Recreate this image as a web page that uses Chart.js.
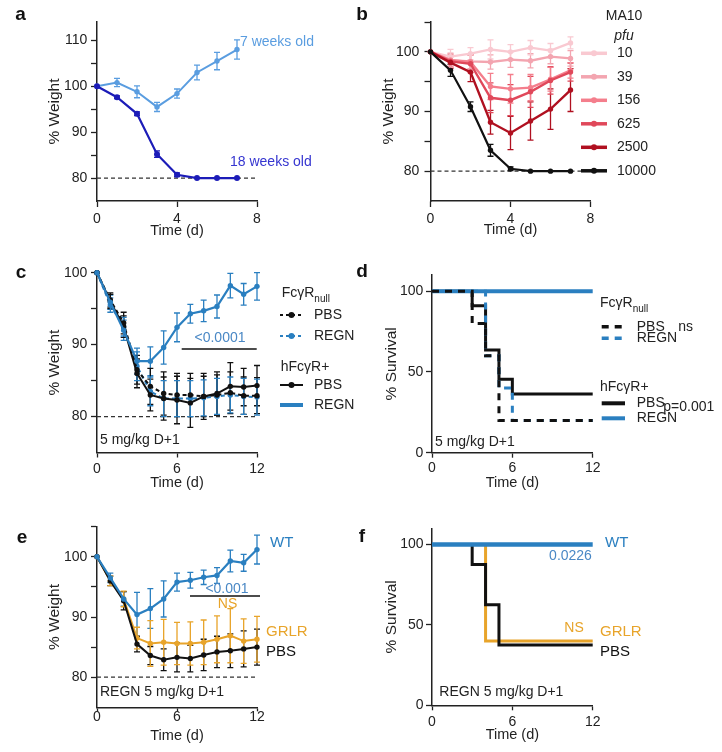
<!DOCTYPE html>
<html>
<head>
<meta charset="utf-8">
<script src="https://cdn.jsdelivr.net/npm/chart.js@4.4.1/dist/chart.umd.min.js"></script>
<style>
  body { margin: 0; background: #fff; }
  #wrap { position: relative; width: 722px; height: 752px; overflow: hidden; }
  canvas { position: absolute; }
</style>
</head>
<body>
<div id="wrap">
  <canvas id="pa"></canvas><canvas id="pb"></canvas>
  <canvas id="pc"></canvas><canvas id="pd"></canvas>
  <canvas id="pe"></canvas><canvas id="pf"></canvas>
</div>
<script>
// ---------- data ----------
// a: young vs old mice
const daysA = [0, 1, 2, 3, 4, 5, 6, 7];
const weeks7 = [100, 100.8, 98.8, 95.5, 98.4, 103, 105.5, 108];
const weeks7Err = [0, 0.9, 1.3, 1, 1, 1.6, 1.9, 2.1];
const weeks18 = [100, 97.6, 94, 85.2, 80.7, 80, 80, 80];
const weeks18Err = [0, 0.3, 0.4, 0.7, 0.4, 0, 0, 0];

// b: MA10 dose (pfu)
const pfuLabels = ['10', '39', '156', '625', '2500', '10000'];
const pfu10 = [100, 99.2, 99.7, 100.4, 100, 100.7, 100.2, 101.5];
const pfu39 = [100, 98.6, 98.4, 98.3, 98.7, 98.5, 99.2, 98.9];
const pfu156 = [100, 98.6, 98.3, 94.2, 93.8, 94, 95.4, 96.9];
const pfu625 = [100, 98.4, 98, 92.3, 91.9, 93.3, 95.2, 96.6];
const pfu2500 = [100, 98.2, 96.6, 88.2, 86.4, 88.4, 90.4, 93.6];
const pfu10000 = [100, 96.9, 90.8, 83.5, 80.4, 80, 80, 80];
const pfu10Err = [0, 1.2, 1, 1.6, 1.2, 1.2, 1.2, 1];
const pfu39Err = [0, 1.2, 1.2, 1.2, 1.3, 1.2, 1.2, 1.3];
const pfu156Err = [0, 1, 1.2, 2.2, 2.4, 2.2, 2, 1.3];
const pfu625Err = [0, 1, 1.5, 2.5, 2.6, 2.6, 2.3, 1.5];
const pfu2500Err = [0, 1, 1.6, 2, 2.8, 3.2, 3.4, 3.6];
const pfu10000Err = [0, 1, 0.8, 1, 0.3, 0, 0, 0];

// c: FcgR null vs hFcgR+, weight
const daysC = [0, 1, 2, 3, 4, 5, 6, 7, 8, 9, 10, 11, 12];
const hPbs = [100, 96, 92.5, 86, 83, 82.5, 82.3, 81.9, 82.8, 83.2, 84.2, 84.1, 84.3];
const hPbsErr = [0, 1, 1.5, 2, 2.2, 3, 3.3, 3.4, 3.2, 3, 3.3, 2.6, 2.8];
const hRegn = [100, 95.9, 92, 87.7, 87.7, 89.6, 92.4, 94.3, 94.7, 95.3, 98.2, 97, 98.1];
const hRegnErr = [0, 1, 1.4, 1.8, 2, 2.3, 2, 1.3, 1.5, 1.6, 1.7, 1.5, 1.9];
const nullPbs = [100, 96.2, 93, 86.5, 84.2, 83.2, 83, 83, 82.8, 83, 83.3, 82.9, 82.9];
const nullPbsErr = [0, 1, 1.5, 2, 2.5, 3, 3, 3, 2.8, 2.8, 2.9, 2.6, 2.5];
const nullRegn = [100, 95.5, 92.5, 87, 83.5, 82.5, 82.5, 82.5, 82.6, 82.8, 83, 82.8, 82.7];
const nullRegnErr = [0, 1, 1.3, 2, 2, 2.5, 2.5, 2.5, 2.5, 2.5, 2.5, 2.5, 2.5];

// d: survival
const kmHPbsDays = [0, 3, 4, 5, 6, 12];
const kmHPbs = [100, 90.9, 63.6, 45.5, 36.4, 36.4];
const kmHRegnDays = [0, 12];
const kmHRegn = [100, 100];
const kmNullPbsDays = [0, 3, 4, 5, 12];
const kmNullPbs = [100, 80, 60, 20, 20];
const kmNullRegnDays = [0, 4, 5, 6, 12];
const kmNullRegn = [100, 60, 40, 20, 20];

// e: WT vs GRLR vs PBS weight
const daysE = [0, 1, 2, 3, 4, 5, 6, 7, 8, 9, 10, 11, 12];
const wtW = [100, 96.5, 93, 90.4, 91.4, 93, 95.8, 96.1, 96.6, 96.9, 99.3, 99, 101.2];
const wtErr = [0, 0.8, 1.2, 3.7, 3.3, 3, 1.5, 1.3, 1.2, 1.3, 1.8, 1.4, 2.4];
const grlrW = [100, 96, 93, 86.5, 85.6, 85.8, 85.6, 85.6, 85.8, 86.3, 86.9, 86, 86.3];
const grlrErr = [0, 0.8, 1.3, 1.8, 3.8, 3.8, 3.5, 3.6, 3.7, 3.9, 4.5, 3.7, 3.8];
const pbsW = [100, 96, 92.7, 85.5, 83.6, 82.9, 83.3, 83.1, 83.7, 84.2, 84.4, 84.7, 85];
const pbsErr = [0, 0.8, 1.5, 1.3, 1.5, 1.8, 2.4, 2.2, 2.6, 2.6, 2.8, 3, 3];

// f: survival
const kmWtDays = [0, 12];
const kmWt = [100, 100];
const kmGrlrDays = [0, 4, 12];
const kmGrlr = [100, 40, 40];
const kmPbsDays = [0, 3, 4, 5, 12];
const kmPbs = [100, 87.5, 62.5, 37.5, 37.5];

// ticks
const weightTicksA = [80, 85, 90, 95, 100, 105, 110];
const weightTicksB = [80, 85, 90, 95, 100, 105];
const weightTicksC = [80, 85, 90, 95, 100];
const survivalTicks = [0, 50, 100];
const dayTicksShort = [0, 4, 8];
const dayTicksLong = [0, 6, 12];

// ---------- style ----------
const FONT = "'Liberation Sans', Arial, Helvetica, sans-serif";
Chart.defaults.font.family = FONT;
Chart.defaults.font.size = 14;
Chart.defaults.color = '#222';

const lightBlue = '#5a9de0', darkBlue = '#1c1cb8';
const pink = ['#f9c9d1', '#f3a5b0', '#f47e8c', '#e0485a', '#b01020', '#111111'];
const blue = '#2a7fc0', orange = '#e8a42a', pBlue = '#4a88c5';

function pts(xs, ys) { return xs.map((x, i) => ({x, y: ys[i]})); }

function wLine(xs, ys, err, color, extra) {
  return Object.assign({data: pts(xs, ys), err, borderColor: color, backgroundColor: color,
    borderWidth: 2, pointRadius: 2.7, pointBorderWidth: 0, tension: 0, clip: false}, extra || {});
}
function kmLine(xs, ys, color, width, dash) {
  return {data: pts(xs, ys), borderColor: color, backgroundColor: color, borderWidth: width,
    borderDash: dash || [], pointRadius: 0, stepped: 'before', clip: false};
}

const decoById = {};
const decoPlugin = {
  id: 'deco',
  beforeDatasetsDraw(chart) {
    const d = decoById[chart.canvas.id];
    if (!d) return;
    const {ctx, chartArea: ar, scales: {x, y}} = chart;
    ctx.save();
    if (d.ref != null) {
      const py = y.getPixelForValue(d.ref);
      ctx.strokeStyle = '#333'; ctx.lineWidth = 1.2; ctx.setLineDash([4, 3]);
      ctx.beginPath(); ctx.moveTo(ar.left, py); ctx.lineTo(ar.right, py); ctx.stroke();
    }
    ctx.setLineDash([]);
    chart.data.datasets.forEach(ds => {
      if (!ds.err) return;
      ctx.strokeStyle = ds.borderColor; ctx.lineWidth = 1.3;
      ds.data.forEach((p, j) => {
        const e = ds.err[j];
        if (!e) return;
        const px = x.getPixelForValue(p.x);
        const hi = y.getPixelForValue(p.y + e), lo = y.getPixelForValue(p.y - e);
        ctx.beginPath();
        ctx.moveTo(px, hi); ctx.lineTo(px, lo);
        ctx.moveTo(px - 3, hi); ctx.lineTo(px + 3, hi);
        ctx.moveTo(px - 3, lo); ctx.lineTo(px + 3, lo);
        ctx.stroke();
      });
    });
    ctx.restore();
  },
  afterDraw(chart) {
    const d = decoById[chart.canvas.id];
    if (!d) return;
    const ctx = chart.ctx, ox = d.box.x, oy = d.box.y;
    ctx.save();
    ctx.textBaseline = 'middle';
    ctx.fillStyle = '#111'; ctx.textAlign = 'center';
    ctx.font = 'bold 19px ' + FONT;
    ctx.fillText(d.letter, d.lx - ox, d.ly - oy);

    (d.segs || []).forEach(s => {
      ctx.strokeStyle = '#111'; ctx.lineWidth = 1.3; ctx.setLineDash([]);
      ctx.beginPath(); ctx.moveTo(s.x1 - ox, s.y - oy); ctx.lineTo(s.x2 - ox, s.y - oy); ctx.stroke();
    });
    (d.keys || []).forEach(k => {
      ctx.strokeStyle = k.c; ctx.fillStyle = k.c; ctx.lineWidth = k.w;
      ctx.setLineDash(k.dash || []);
      ctx.beginPath(); ctx.moveTo(k.x1 - ox, k.y - oy); ctx.lineTo(k.x2 - ox, k.y - oy); ctx.stroke();
      ctx.setLineDash([]);
      if (k.dot) {
        ctx.beginPath(); ctx.arc((k.x1 + k.x2) / 2 - ox, k.y - oy, 3, 0, Math.PI * 2); ctx.fill();
      }
    });
    (d.texts || []).forEach(t => {
      const size = t.size || 14;
      ctx.font = (t.italic ? 'italic ' : '') + size + 'px ' + FONT;
      ctx.fillStyle = t.c || '#222';
      ctx.textAlign = t.align || 'left';
      ctx.fillText(t.t, t.x - ox, t.y - oy);
      if (t.sub) {
        const w = ctx.measureText(t.t).width;
        ctx.font = '10px ' + FONT;
        ctx.textAlign = 'left';
        ctx.fillText(t.sub, t.x - ox + w, t.y - oy + 6);
      }
    });
    ctx.restore();
  }
};

function makePanel(id, box, area, ax, datasets, deco) {
  const cv = document.getElementById(id);
  cv.width = box.w; cv.height = box.h;
  cv.style.left = box.x + 'px'; cv.style.top = box.y + 'px';
  decoById[id] = Object.assign({box}, deco);
  const tickGrid = len => ({display: true, drawOnChartArea: false, drawTicks: true,
    tickLength: len, color: '#222', tickWidth: 1.3});
  return new Chart(cv, {
    type: 'line',
    data: {datasets},
    options: {
      responsive: false, animation: false, events: [],
      layout: {padding: {left: 0, top: area.t - box.y, right: box.x + box.w - area.r, bottom: 0}},
      plugins: {legend: {display: false}, tooltip: {enabled: false}},
      scales: {
        x: {
          type: 'linear', min: ax.xMin, max: ax.xMax,
          afterFit: s => { s.height = box.y + box.h - area.b; },
          afterBuildTicks: s => { s.ticks = ax.xTicks.map(v => ({value: v})); },
          grid: tickGrid(ax.xTl),
          border: {color: '#222', width: 1.5},
          ticks: {padding: ax.xPad, maxRotation: 0, autoSkip: false, color: '#222'},
          title: {display: true, text: 'Time (d)', font: {size: 14.5}, color: '#222',
            padding: {top: 0, bottom: ax.xTitlePad}}
        },
        y: {
          type: 'linear', min: ax.yMin, max: ax.yMax,
          afterFit: s => { s.width = area.l - box.x; },
          afterBuildTicks: s => { s.ticks = ax.yTicks.map(v => ({value: v})); },
          grid: tickGrid(6),
          border: {color: '#222', width: 1.5},
          ticks: {padding: ax.yPad, autoSkip: false, color: '#222',
            callback: v => (ax.yEvery || v % 10 === 0) ? String(v) : ''},
          title: {display: true, text: ax.yTitle, font: {size: 15.5}, color: '#222',
            padding: {top: ax.yTitlePad, bottom: 0}}
        }
      }
    },
    plugins: [decoPlugin]
  });
}

// ---------- a ----------
makePanel('pa', {x: 0, y: 0, w: 361, h: 245}, {l: 97, t: 22, r: 257, b: 201},
  {xMin: 0, xMax: 8, xTicks: dayTicksShort, xTl: 6, xPad: 3.6, xTitlePad: 5.3,
   yMin: 75, yMax: 114, yTicks: weightTicksA, yPad: 3.7, yTitle: '% Weight', yTitlePad: 45.7},
  [wLine(daysA, weeks18, weeks18Err, darkBlue, {borderWidth: 2.2, pointRadius: 3}),
   wLine(daysA, weeks7, weeks7Err, lightBlue)],
  {letter: 'a', lx: 20.5, ly: 15, ref: 80,
   texts: [{t: '7 weeks old', x: 240, y: 42, c: lightBlue},
           {t: '18 weeks old', x: 230, y: 162, c: '#3535d0'}]});

// ---------- b ----------
const pfuSeries = [pfu10000, pfu2500, pfu625, pfu156, pfu39, pfu10];
const pfuErrs = [pfu10000Err, pfu2500Err, pfu625Err, pfu156Err, pfu39Err, pfu10Err];
const pfuColors = pink.slice().reverse();
const keysB = [], textsB = [{t: 'MA10', x: 624, y: 16, align: 'center'},
                            {t: 'pfu', x: 624, y: 36, align: 'center', italic: true}];
pfuLabels.forEach((lab, i) => {
  const ky = 53.3 + i * 23.5;
  keysB.push({x1: 581, x2: 607, y: ky, c: pink[i], w: 3.5, dot: true});
  textsB.push({t: lab, x: 617, y: ky});
});
makePanel('pb', {x: 345, y: 0, w: 377, h: 245}, {l: 430.5, t: 22, r: 590.5, b: 201},
  {xMin: 0, xMax: 8, xTicks: dayTicksShort, xTl: 6, xPad: 3.6, xTitlePad: 6.3,
   yMin: 75, yMax: 105, yTicks: weightTicksB, yPad: 5.2, yTitle: '% Weight', yTitlePad: 34.7},
  pfuSeries.map((s, i) => wLine(daysA, s, pfuErrs[i], pfuColors[i], {borderWidth: i === 0 ? 2.2 : 2.4})),
  {letter: 'b', lx: 362, ly: 15, ref: 80, keys: keysB, texts: textsB});

// ---------- c ----------
makePanel('pc', {x: 0, y: 250, w: 361, h: 250}, {l: 97, t: 272.7, r: 257, b: 452.5},
  {xMin: 0, xMax: 12, xTicks: dayTicksLong, xTl: 5, xPad: 3.1, xTitlePad: 8.3,
   yMin: 75, yMax: 100, yTicks: weightTicksC, yPad: 3.7, yTitle: '% Weight', yTitlePad: 45.7},
  [wLine(daysC, hRegn, hRegnErr, blue, {borderWidth: 2.2}),
   wLine(daysC, hPbs, hPbsErr, '#111'),
   wLine(daysC, nullPbs, nullPbsErr, '#111', {borderDash: [4, 3]}),
   wLine(daysC, nullRegn, nullRegnErr, blue, {borderDash: [4, 3]})],
  {letter: 'c', lx: 21, ly: 273, ref: 80,
   segs: [{x1: 181.7, x2: 256.7, y: 349}],
   keys: [{x1: 280, x2: 303, y: 315, c: '#111', w: 2, dash: [3, 3], dot: true},
          {x1: 280, x2: 303, y: 336, c: blue, w: 2, dash: [3, 3], dot: true},
          {x1: 280, x2: 303, y: 385, c: '#111', w: 2, dot: true},
          {x1: 280, x2: 303, y: 405, c: blue, w: 4}],
   texts: [{t: 'FcγR', sub: 'null', x: 281.7, y: 293},
           {t: 'PBS', x: 314, y: 315}, {t: 'REGN', x: 314, y: 336},
           {t: 'hFcγR+', x: 280.7, y: 366.7},
           {t: 'PBS', x: 314, y: 385}, {t: 'REGN', x: 314, y: 405},
           {t: '<0.0001', x: 220, y: 338.3, align: 'center', c: pBlue},
           {t: '5 mg/kg D+1', x: 100, y: 440}]});

// ---------- d ----------
makePanel('pd', {x: 345, y: 250, w: 377, h: 250}, {l: 432, t: 275, r: 592.7, b: 452.7},
  {xMin: 0, xMax: 12, xTicks: dayTicksLong, xTl: 5, xPad: 1.9, xTitlePad: 8.3,
   yMin: 0, yMax: 110, yTicks: survivalTicks, yEvery: true, yPad: 2.7, yTitle: '% Survival', yTitlePad: 37.7},
  [kmLine(kmNullPbsDays, kmNullPbs, '#111', 3, [7, 6]),
   kmLine(kmNullRegnDays, kmNullRegn, blue, 3, [7, 6]),
   kmLine(kmHRegnDays, kmHRegn, blue, 4),
   kmLine(kmHPbsDays, kmHPbs, '#111', 3)],
  {letter: 'd', lx: 362, ly: 272,
   keys: [{x1: 601.7, x2: 625, y: 326.7, c: '#111', w: 3.5, dash: [7, 6]},
          {x1: 601.7, x2: 625, y: 338.3, c: blue, w: 3.5, dash: [7, 6]},
          {x1: 601.7, x2: 625, y: 403.3, c: '#111', w: 4},
          {x1: 601.7, x2: 625, y: 418.3, c: blue, w: 4}],
   texts: [{t: 'FcγR', sub: 'null', x: 600, y: 303.3},
           {t: 'PBS', x: 636.7, y: 326.7}, {t: 'ns', x: 678.3, y: 327},
           {t: 'REGN', x: 636.7, y: 338.3},
           {t: 'hFcγR+', x: 600, y: 386.7},
           {t: 'PBS', x: 636.7, y: 403.3}, {t: 'p=0.001', x: 663.3, y: 406.7},
           {t: 'REGN', x: 636.7, y: 418.3},
           {t: '5 mg/kg D+1', x: 435, y: 441.7}]});

// ---------- e ----------
makePanel('pe', {x: 0, y: 500, w: 361, h: 252}, {l: 97, t: 526.7, r: 257, b: 707.3},
  {xMin: 0, xMax: 12, xTicks: dayTicksLong, xTl: 4, xPad: -2.4, xTitlePad: 7.3,
   yMin: 75, yMax: 105, yTicks: weightTicksB, yPad: 3.7, yTitle: '% Weight', yTitlePad: 45.7},
  [wLine(daysE, wtW, wtErr, blue, {borderWidth: 2.2}),
   wLine(daysE, pbsW, pbsErr, '#111'),
   wLine(daysE, grlrW, grlrErr, orange)],
  {letter: 'e', lx: 22, ly: 537.5, ref: 80,
   segs: [{x1: 190, x2: 260, y: 596}],
   texts: [{t: 'WT', x: 270, y: 543.3, c: blue, size: 15},
           {t: '<0.001', x: 227, y: 589, align: 'center', c: pBlue},
           {t: 'NS', x: 227.5, y: 604.5, align: 'center', c: orange},
           {t: 'GRLR', x: 266, y: 631.7, c: orange, size: 15},
           {t: 'PBS', x: 266, y: 651.7, c: '#111', size: 15},
           {t: 'REGN 5 mg/kg D+1', x: 100, y: 691.7}]});

// ---------- f ----------
makePanel('pf', {x: 345, y: 500, w: 377, h: 252}, {l: 432, t: 528.3, r: 592.7, b: 705.3},
  {xMin: 0, xMax: 12, xTicks: dayTicksLong, xTl: 5, xPad: 3, xTitlePad: 8.3,
   yMin: 0, yMax: 110, yTicks: survivalTicks, yEvery: true, yPad: 2.4, yTitle: '% Survival', yTitlePad: 37.7},
  [kmLine(kmWtDays, kmWt, blue, 4.5),
   kmLine(kmPbsDays, kmPbs, '#111', 3),
   kmLine(kmGrlrDays, kmGrlr, orange, 3)],
  {letter: 'f', lx: 362, ly: 537,
   texts: [{t: 'WT', x: 605, y: 542.7, c: blue, size: 15},
           {t: '0.0226', x: 570.5, y: 556, align: 'center', c: pBlue},
           {t: 'NS', x: 574, y: 628.3, align: 'center', c: orange},
           {t: 'GRLR', x: 600, y: 631.7, c: orange, size: 15},
           {t: 'PBS', x: 600, y: 651.7, c: '#111', size: 15},
           {t: 'REGN 5 mg/kg D+1', x: 439.3, y: 691.7}]});
</script>
</body>
</html>
